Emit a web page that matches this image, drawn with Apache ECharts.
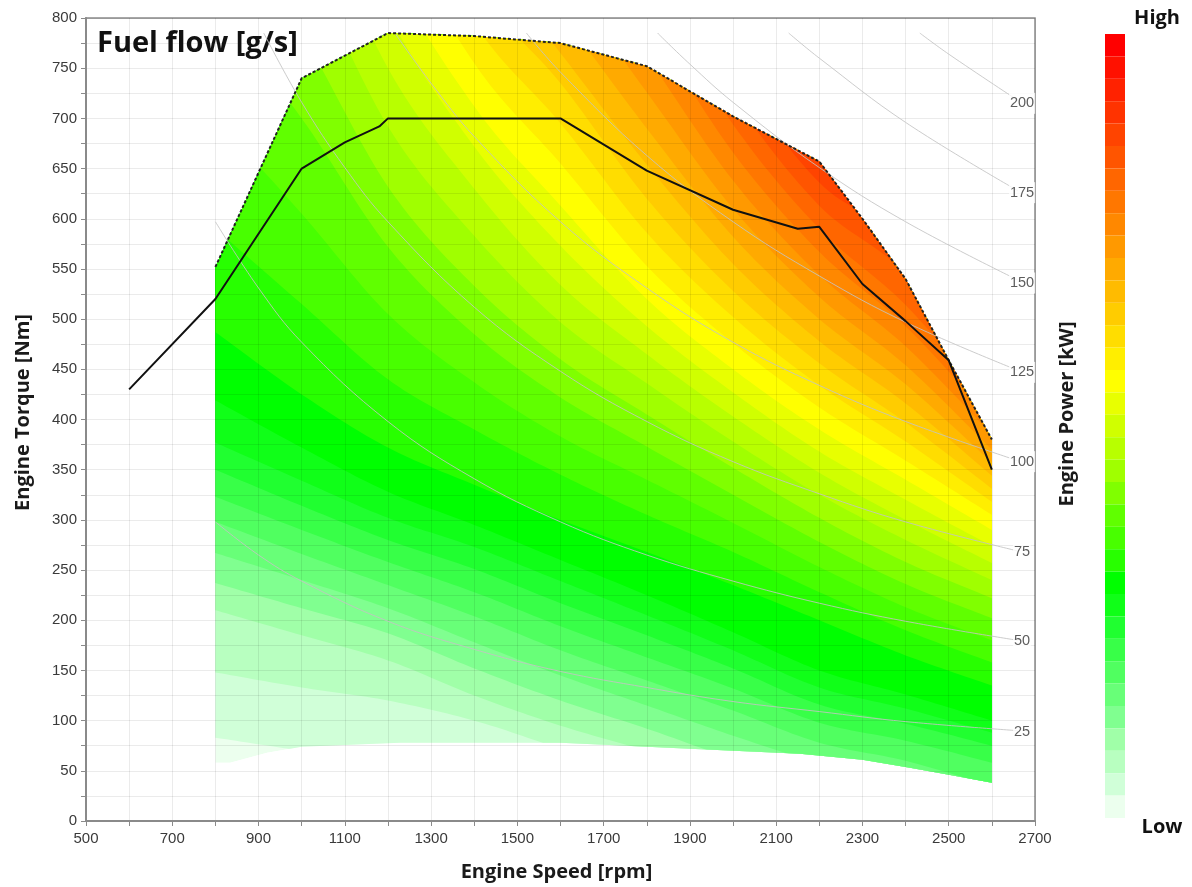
<!DOCTYPE html>
<html><head><meta charset="utf-8">
<script src="https://cdn.jsdelivr.net/npm/echarts@6/dist/echarts.min.js"></script>
<style>html,body{margin:0;padding:0;background:#fff}#c{width:1192px;height:887px}</style>
</head><body><div id="c"></div>
<script>
// ---- data ----
const speedCols = [800,1000,1200,1400,1600,1800,2000,2200,2400,2600];
// torque [Nm] of the lower edge of band k (k = 1..33) at each speed column
const bandBounds = [
 [83,70,58,45,32,18,5,-20,-40,-65],
 [148,133,120,100,72,45,25,0,-20,-45],
 [210,185,160,125,95,70,45,18,0,-25],
 [237,212,187,152,120,92,62,38,20,-5],
 [267,240,212,178,145,115,85,58,40,15],
 [298,266,235,204,170,140,110,78,60,35],
 [323,290,258,228,194,163,132,98,80,58],
 [350,314,280,251,217,185,152,116,97,75],
 [377,339,302,273,239,205,170,133,112,88],
 [419,372,328,295,260,225,188,150,126,100],
 [487,425,372,335,300,268,235,200,165,135],
 [590,515,440,390,345,305,268,228,190,158],
 [700,605,505,437,383,340,297,253,213,180],
 [810,700,572,485,422,373,325,278,236,202],
 [920,785,632,533,460,405,352,302,258,222],
 [1020,865,692,583,497,436,378,325,280,240],
 [1120,940,750,630,534,465,403,347,300,257],
 [1210,1010,805,672,573,493,427,368,320,274],
 [1300,1080,855,712,613,520,450,390,340,290],
 [1390,1155,910,755,655,553,476,412,359,305],
 [1480,1225,960,795,695,586,502,434,378,318],
 [1570,1295,1010,835,735,620,528,456,397,331],
 [1660,1365,1060,875,765,654,555,478,416,344],
 [1750,1435,1110,915,805,690,582,500,435,357],
 [1840,1505,1160,955,845,726,610,522,454,370],
 [1930,1575,1210,995,885,762,638,544,473,385],
 [2020,1645,1260,1035,925,798,666,567,493,400],
 [2110,1715,1310,1075,965,834,694,590,514,415],
 [2200,1785,1360,1115,1005,870,722,613,545,430],
 [2290,1855,1410,1155,1045,906,750,636,575,445],
 [2380,1925,1460,1195,1085,942,780,660,605,460],
 [2470,1995,1510,1235,1125,978,810,685,635,475],
 [2560,2065,1560,1275,1165,1014,840,710,665,490]
];
const bandIds = [0,1,2,3,4,5,6,7,8,9,10,11,12,13,14,15,16,17,18,19,20,21,22,23,24,25,26,27,28,29,30,31,32,33];
const bandColors = ['#ecffee','#d0ffd8','#b8ffc0','#a0ffa8','#80ff90','#68ff78','#50ff60','#38ff48','#20ff30','#10ff18',
 '#00ff00','#28ff00','#48ff00','#60ff00','#80ff00','#a0ff00','#b8ff00','#d0ff00','#e8ff00','#ffff00',
 '#ffee00','#ffdd00','#ffcc00','#ffbb00','#ffaa00','#ff9900','#ff8800','#ff7700','#ff6600','#ff5500',
 '#ff4400','#ff3300','#ff2200','#ff1100','#ff0000'];
const bottomEdge = [[800,58],[834,58],[920,68],[1000,74],[1228,78],[1600,78],[1900,72],[2155,67],[2300,61],[2410,53],[2500,46],[2600,38]];
const topEdge = [[800,552],[1000,740],[1200,785],[1400,782],[1600,775],[1800,752],[2000,702],[2200,657],[2300,600],[2400,540],[2500,459],[2600,380]];
const torqueCurve = [[600,430],[800,520],[1000,650],[1100,676],[1180,692],[1200,700],[1600,700],[1800,648],[2000,609],[2150,590],[2200,592],[2300,535],[2400,498],[2500,459],[2600,350]];
const powerLevels = ['25','50','75','100','125','150','175','200'];
const powerLines = [
 [[800,298],[900,265],[1000,239],[1200,199],[1400,171],[1600,149],[1800,133],[2000,119],[2200,109],[2400,99],[2660,90]],
 [[800,597],[900,531],[1000,477],[1200,398],[1400,341],[1600,298],[1800,265],[2000,239],[2200,217],[2400,199],[2660,180]],
 [[912,785],[1000,716],[1100,651],[1200,597],[1400,512],[1600,448],[1800,398],[2000,358],[2200,326],[2400,298],[2660,269]],
 [[1216,785],[1300,735],[1400,682],[1600,597],[1800,531],[2000,477],[2200,434],[2400,398],[2660,359]],
 [[1521,785],[1600,746],[1800,663],[2000,597],[2200,543],[2400,497],[2660,449]],
 [[1825,785],[1900,754],[2000,716],[2200,651],[2400,597],[2660,539]],
 [[2129,785],[2200,760],[2400,696],[2660,628]],
 [[2433,785],[2500,764],[2660,718]]
];
const powerLabelPos = [[2670,89],[2670,179],[2670,268],[2670,358],[2670,447],[2670,536],[2670,626],[2670,715]];
const xTicks = {min:500,max:2700,step:100,labelStep:200};
const yTicks = {min:0,max:800,step:25,labelStep:50};

// ---- helpers ----
function catmull(pts, seg){
  const out=[];
  for(let i=0;i<pts.length-1;i++){
    const p0=pts[Math.max(0,i-1)],p1=pts[i],p2=pts[i+1],p3=pts[Math.min(pts.length-1,i+2)];
    for(let s=0;s<seg;s++){
      const t=s/seg,t2=t*t,t3=t2*t;
      const f=(a,b,c,d)=>0.5*((2*b)+(-a+c)*t+(2*a-5*b+4*c-d)*t2+(-a+3*b-3*c+d)*t3);
      out.push([f(p0[0],p1[0],p2[0],p3[0]),f(p0[1],p1[1],p2[1],p3[1])]);
    }
  }
  out.push(pts[pts.length-1]);
  return out;
}
const domainPoly = bottomEdge.concat(topEdge.slice().reverse());

function renderBand(params, api){
  const k = api.value(0);
  const dom = domainPoly.map(p=>api.coord(p));
  let pts;
  if(k===0){ pts = dom; }
  else {
    const row = bandBounds[k-1];
    const cp = speedCols.map((n,i)=>api.coord([n,row[i]]));
    const curve = catmull(cp, 16);
    const f = curve[0], l = curve[curve.length-1];
    let top = 0; curve.forEach(p=>{ if(p[1]<top) top=p[1]; });
    top -= 200;
    pts = [[f[0]-20,f[1]]].concat(curve,[[l[0]+20,l[1]],[l[0]+20,top],[f[0]-20,top]]);
  }
  return {type:'polygon', shape:{points:pts},
    style:{fill:api.visual('color'), stroke:null},
    clipPath:{type:'polygon', shape:{points:dom}}};
}

const chart = echarts.init(document.getElementById('c'), null, {renderer:'canvas', width:1192, height:887});
const series = [{
  type:'custom', name:'bands', coordinateSystem:'cartesian2d',
  data: bandIds.map(k=>[k]), renderItem: renderBand, z:1, silent:true, animation:false
}];
powerLines.forEach((pl,i)=>{
  series.push({type:'line', name:powerLevels[i], data:pl, smooth:0.4, symbol:'none', z:6, silent:true,
    lineStyle:{color:'rgba(195,195,195,0.85)', width:1}});
});
series.push({type:'scatter', name:'powerLabels', symbolSize:0, z:7, silent:true,
  data: powerLabelPos.map((p,i)=>({value:p, name:powerLevels[i]})),
  label:{show:true, position:'inside', formatter:'{b}', fontSize:14.5, fontFamily:'Liberation Sans, Arial', color:'#333',
    backgroundColor:'#fff', padding:[3,1]}});
series.push({type:'line', name:'envelope', data:topEdge, symbol:'none', z:8, silent:true,
  lineStyle:{color:'#222', width:2, type:[3,2]}});
series.push({type:'line', name:'torque', data:torqueCurve, symbol:'none', z:9, silent:true,
  lineStyle:{color:'#111', width:2}});

const axisFont = {fontSize:15, color:'#3a3a3a', fontFamily:'Liberation Sans, Arial'};
const nameFont = {fontSize:20, fontWeight:'bold', color:'#1a1a1a', fontFamily:'Open Sans'};
chart.setOption({
  animation:false,
  backgroundColor:'#fff',
  title:{text:'Fuel flow [g/s]', left:92, top:24, textStyle:{fontSize:29, fontWeight:'bold', color:'#111', fontFamily:'Open Sans'}},
  grid:{left:86, top:18, width:949, height:803, show:true, borderColor:'#8a8a8a', borderWidth:1.5, backgroundColor:'transparent'},
  xAxis:{type:'value', min:xTicks.min, max:xTicks.max, interval:xTicks.step, z:3,
    name:'Engine Speed [rpm]', nameLocation:'middle', nameGap:41,
    nameTextStyle:Object.assign({padding:[0,8,0,0]}, nameFont),
    axisLine:{lineStyle:{color:'#8a8a8a', width:2}}, axisTick:{show:true, length:5, lineStyle:{color:'#8a8a8a'}},
    axisLabel:Object.assign({margin:10, formatter:v=>((v-xTicks.min)%xTicks.labelStep===0? String(v):'')}, axisFont),
    splitLine:{show:true, lineStyle:{color:'rgba(0,0,0,0.08)', width:1}}},
  yAxis:{type:'value', min:yTicks.min, max:yTicks.max, interval:yTicks.step, z:3,
    name:'Engine Torque [Nm]', nameLocation:'middle', nameGap:53,
    nameTextStyle:Object.assign({padding:[0,0,0,14]}, nameFont),
    axisLine:{show:true, lineStyle:{color:'#8a8a8a', width:2}}, axisTick:{show:true, length:5, lineStyle:{color:'#8a8a8a'}},
    axisLabel:Object.assign({margin:9, formatter:v=>(v%yTicks.labelStep===0? String(v):'')}, axisFont),
    splitLine:{show:true, lineStyle:{color:'rgba(0,0,0,0.08)', width:1}}},
  visualMap:{type:'piecewise', seriesIndex:0, dimension:0, orient:'vertical', left:1105, top:34, padding:0,
    itemWidth:20, itemHeight:22.4, itemGap:0, itemSymbol:'rect', showLabel:false, selectedMode:false, hoverLink:false,
    pieces: bandColors.map((c,k)=>({value:k, color:c})).reverse()},
  graphic:[
    {type:'text', x:1067, y:414, rotation:Math.PI/2, style:{text:'Engine Power [kW]', font:'bold 20px "Open Sans"', fill:'#1a1a1a', align:'center', verticalAlign:'middle'}},
    {type:'text', x:1157, y:18, style:{text:'High', font:'bold 20px "Open Sans"', fill:'#111', align:'center', verticalAlign:'middle'}},
    {type:'text', x:1162, y:827, style:{text:'Low', font:'bold 20px "Open Sans"', fill:'#111', align:'center', verticalAlign:'middle'}}
  ],
  series: series
});
</script></body></html>
